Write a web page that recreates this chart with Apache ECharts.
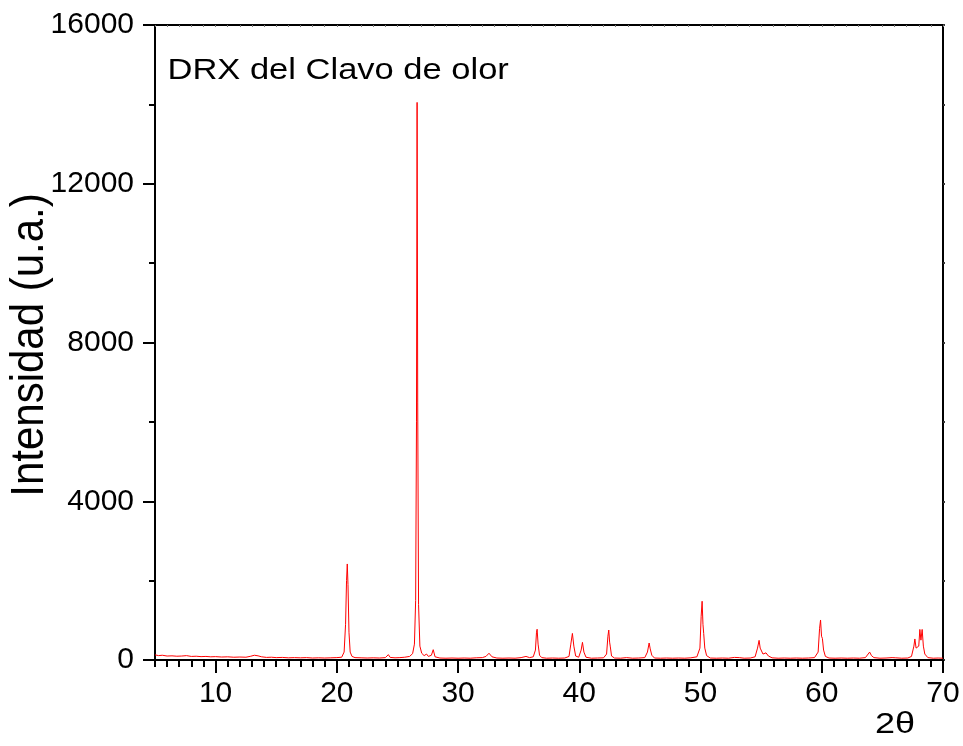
<!DOCTYPE html>
<html>
<head>
<meta charset="utf-8">
<title>DRX del Clavo de olor</title>
<script src="https://cdn.jsdelivr.net/npm/echarts@6/dist/echarts.min.js"></script>
<style>
  html, body { margin: 0; padding: 0; background: #ffffff; }
  #chart { width: 963px; height: 746px; }
</style>
</head>
<body>
<div id="chart"></div>
<script>
// Diffraction pattern: 2θ positions (degrees) and measured intensity (a.u.)
var twoTheta = [
  5.0, 5.3, 5.6, 6.0, 6.4, 6.8, 7.2, 7.6, 8.0, 8.4, 8.8, 9.2, 9.6, 10.0,
  10.5, 11.0, 11.5, 12.0, 12.5, 12.9, 13.2, 13.5, 13.8, 14.2, 14.6, 15.0,
  15.5, 16.0, 16.5, 17.0, 17.5, 18.0, 18.5, 19.0, 19.5, 20.0, 20.4, 20.6,
  20.72, 20.8, 20.86, 20.92, 21.0, 21.1, 21.25, 21.5, 22.0, 22.5, 23.0, 23.5,
  24.0, 24.25, 24.4, 24.8, 25.2, 25.6, 26.0, 26.25, 26.4, 26.5, 26.57, 26.62,
  26.67, 26.74, 26.85, 27.0, 27.2, 27.4, 27.55, 27.8, 27.95, 28.1, 28.5, 29.0,
  29.5, 30.0, 30.5, 31.0, 31.5, 32.0, 32.3, 32.55, 32.8, 33.2, 33.7, 34.2,
  34.7, 35.2, 35.6, 35.9, 36.2, 36.38, 36.47, 36.52, 36.6, 36.72, 36.9, 37.3,
  37.8, 38.3, 38.8, 39.15, 39.3, 39.43, 39.55, 39.7, 39.95, 40.15, 40.26, 40.38,
  40.55, 41.0, 41.5, 42.0, 42.25, 42.36, 42.43, 42.5, 42.56, 42.66, 42.9, 43.4,
  43.9, 44.4, 44.9, 45.4, 45.62, 45.76, 45.85, 45.98, 46.2, 46.7, 47.2, 47.7,
  48.2, 48.7, 49.2, 49.7, 49.95, 50.05, 50.13, 50.2, 50.26, 50.35, 50.5, 50.8,
  51.3, 51.8, 52.3, 52.8, 53.2, 53.6, 54.1, 54.5, 54.7, 54.83, 54.92, 55.0,
  55.15, 55.4, 55.6, 55.9, 56.4, 56.9, 57.4, 57.9, 58.4, 58.9, 59.4, 59.7,
  59.82, 59.9, 59.98, 60.05, 60.15, 60.3, 60.6, 61.1, 61.6, 62.1, 62.6, 63.1,
  63.6, 63.95, 64.1, 64.3, 64.8, 65.3, 65.8, 66.1, 66.6, 67.1, 67.4, 67.6,
  67.68, 67.78, 67.9, 68.0, 68.09, 68.18, 68.28, 68.38, 68.5, 68.75, 69.2, 69.6,
  70.0
];
var intensity = [
  130, 110, 120, 100, 105, 95, 100, 110, 90, 95, 85, 90, 80, 85,
  75, 80, 70, 75, 70, 95, 120, 105, 80, 65, 70, 60,
  65, 55, 60, 55, 60, 50, 55, 50, 55, 60, 70, 200,
  900, 2000, 2420, 1900, 700, 200, 90, 60, 55, 50, 55, 50,
  60, 135, 65, 55, 60, 70, 90, 160, 400, 1500, 6000, 14050,
  6500, 1400, 350, 170, 110, 150, 90, 120, 260, 80, 50, 45,
  50, 45, 50, 45, 55, 60, 90, 170, 80, 50, 45, 50,
  45, 60, 90, 60, 80, 250, 700, 775, 400, 120, 60, 45,
  50, 45, 50, 90, 400, 670, 350, 100, 70, 250, 445, 200,
  70, 45, 50, 55, 150, 600, 755, 450, 330, 100, 50, 45,
  60, 45, 50, 60, 200, 428, 280, 120, 50, 45, 50, 45,
  50, 45, 55, 80, 300, 1100, 1480, 900, 670, 300, 110, 50,
  45, 50, 45, 65, 60, 45, 50, 80, 300, 495, 300, 270,
  150, 180, 100, 55, 45, 50, 45, 50, 45, 50, 60, 200,
  800, 1008, 600, 545, 250, 90, 50, 45, 50, 45, 50, 45,
  60, 200, 110, 60, 45, 50, 60, 55, 45, 50, 90, 350,
  530, 300, 250, 350, 770, 500, 770, 350, 150, 60, 45, 50,
  45
];

// Axis ticks and labels
var xMajorTicks = [10, 20, 30, 40, 50, 60, 70];
var yTickStep = 4000;
var xRange = [5, 70];
var yRange = [0, 16000];

var points = twoTheta.map(function (t, i) { return [t, intensity[i]]; });

var FONT = 'Liberation Sans, Arial, Helvetica, sans-serif';
var BLACK = '#000000';

var chart = echarts.init(document.getElementById('chart'), null, { renderer: 'canvas' });

chart.setOption({
  animation: false,
  backgroundColor: '#ffffff',
  grid: { left: 155, right: 20, top: 25, bottom: 86, containLabel: false },
  xAxis: [
    {
      // bottom axis: labels and long ticks every 10°
      type: 'value', position: 'bottom', min: xRange[0], max: xRange[1], interval: 1,
      axisLine: { show: true, lineStyle: { color: BLACK, width: 2 } },
      axisTick: { show: true, length: 13, inside: false, customValues: xMajorTicks,
                  lineStyle: { color: BLACK, width: 2 } },
      axisLabel: { show: true, customValues: xMajorTicks, margin: 19, color: BLACK,
                   fontFamily: FONT, fontSize: 30, verticalAlign: 'top',
                   formatter: function (v) { return String(v); } },
      splitLine: { show: false }
    },
    {
      // bottom axis: short ticks every 1°
      type: 'value', position: 'bottom', min: xRange[0], max: xRange[1], interval: 1,
      axisLine: { show: false },
      axisTick: { show: true, length: 7, inside: false, lineStyle: { color: BLACK, width: 2 } },
      axisLabel: { show: false },
      splitLine: { show: false }
    },
    {
      // top frame edge
      type: 'value', position: 'top', min: xRange[0], max: xRange[1], interval: 1,
      axisLine: { show: true, lineStyle: { color: BLACK, width: 2 } },
      axisTick: { show: true, length: 2, inside: true, lineStyle: { color: '#777777', width: 1 } },
      axisLabel: { show: false },
      splitLine: { show: false }
    }
  ],
  yAxis: [
    {
      type: 'value', position: 'left', min: yRange[0], max: yRange[1], interval: yTickStep,
      axisLine: { show: true, lineStyle: { color: BLACK, width: 2 } },
      axisTick: { show: true, length: 12, inside: false, lineStyle: { color: BLACK, width: 2 } },
      minorTick: { show: true, splitNumber: 2, length: 6, lineStyle: { color: BLACK, width: 2 } },
      axisLabel: { show: true, margin: 21, color: BLACK, fontFamily: FONT, fontSize: 30,
                   formatter: function (v) { return String(v); } },
      splitLine: { show: false },
      minorSplitLine: { show: false }
    },
    {
      // right frame edge
      type: 'value', position: 'right', min: yRange[0], max: yRange[1], interval: yTickStep / 2,
      axisLine: { show: true, lineStyle: { color: BLACK, width: 2 } },
      axisTick: { show: true, length: 2, inside: false, lineStyle: { color: '#333333', width: 2 } },
      axisLabel: { show: false },
      splitLine: { show: false }
    }
  ],
  series: [
    {
      type: 'line',
      xAxisIndex: 0,
      yAxisIndex: 0,
      data: points,
      showSymbol: false,
      symbol: 'none',
      clip: true,
      lineStyle: { color: '#ff0000', width: 1 },
      z: 1
    }
  ],
  graphic: [
    {
      type: 'text', x: 167.5, y: 71.2, scaleX: 1.15,
      style: { text: 'DRX del Clavo de olor', fill: BLACK, font: '30px ' + FONT,
               align: 'left', verticalAlign: 'middle' }
    },
    {
      type: 'text', x: 30.5, y: 345, rotation: Math.PI / 2, scaleY: 1.12,
      style: { text: 'Intensidad (u.a.)', fill: BLACK, font: '42px ' + FONT,
               align: 'center', verticalAlign: 'middle' }
    },
    {
      type: 'text', x: 875, y: 724.5, scaleX: 1.2,
      style: { text: '2θ', fill: BLACK, font: '30px ' + FONT,
               align: 'left', verticalAlign: 'middle' }
    }
  ]
});
</script>
</body>
</html>
